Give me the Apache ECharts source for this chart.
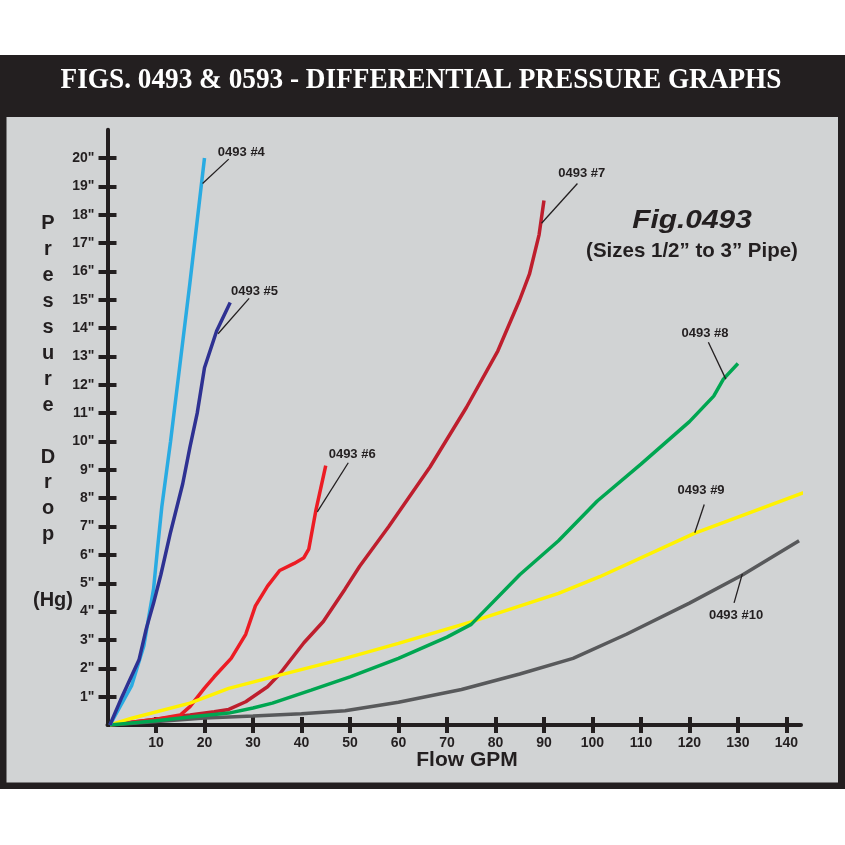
<!DOCTYPE html>
<html lang="en">
<head>
    <meta charset="UTF-8">
    <title>Differential Pressure Graphs</title>
    <script src="https://cdn.jsdelivr.net/npm/echarts@6/dist/echarts.min.js"></script>
    <style type="text/css">
        body{
            margin: 0px;
            padding: 0px;
            background: #ffffff;
        }
        #chart{
            width: 845px;
            height: 845px;
        }
    </style>
</head>
<body>
<div id="chart"></div>
<script type="text/javascript">
    // tick labels
    var flowTicks = [10, 20, 30, 40, 50, 60, 70, 80, 90, 100, 110, 120, 130, 140];
    var dropTicks = [1, 2, 3, 4, 5, 6, 7, 8, 9, 10, 11, 12, 13, 14, 15, 16, 17, 18, 19, 20];

    // curves, [flow GPM, pressure drop "Hg]
    var size4 = [[0.5, 0], [5, 1.4], [7.5, 2.8], [9.5, 4.8], [10.3, 6.2], [11.2, 7.7], [13, 10], [15, 12.8], [17, 15.6], [20, 20]];
    var size5 = [[0.5, 0], [3, 1], [6.5, 2.3], [8, 3.4], [9.5, 4.3], [11, 5.3], [13, 6.8], [15.5, 8.5], [17, 9.8], [18.5, 11], [20, 12.6], [22.5, 13.9], [25.3, 14.9]];
    var size6 = [[0.5, 0], [10, 0.2], [15, 0.35], [17, 0.65], [20, 1.3], [22, 1.7], [25.5, 2.35], [28.5, 3.2], [30.5, 4.2], [33, 4.9], [35.5, 5.45], [38.5, 5.7], [40.5, 5.9], [41.5, 6.2], [43, 7.6], [45, 9.15]];
    var size7 = [[0.5, 0], [10, 0.2], [17, 0.35], [22, 0.47], [25, 0.55], [28.5, 0.82], [33, 1.35], [35.5, 1.8], [40.5, 2.9], [44.5, 3.65], [49, 4.8], [52, 5.6], [58, 7.0], [66.5, 9.1], [74, 11.2], [80.5, 13.2], [85, 15], [87, 15.9], [89, 17.3], [90, 18.5]];
    var size8 = [[0.5, 0], [10, 0.15], [17, 0.28], [25, 0.42], [30, 0.6], [34, 0.77], [42, 1.23], [50, 1.7], [60, 2.35], [70, 3.1], [75, 3.55], [85, 5.3], [93, 6.5], [101, 7.9], [110, 9.2], [120, 10.7], [125, 11.6], [127, 12.2], [130, 12.75]];
    var size9 = [[0.5, 0], [5, 0.24], [17, 0.77], [25, 1.29], [35.5, 1.76], [49, 2.35], [60, 2.88], [75, 3.64], [93, 4.64], [101.5, 5.23], [121, 6.76], [147.3, 8.44]];
    var size10 = [[0.5, 0], [20, 0.25], [30, 0.32], [40, 0.4], [49, 0.5], [60, 0.8], [73, 1.25], [85, 1.8], [96, 2.35], [107, 3.2], [120, 4.3], [131, 5.3], [142.6, 6.5]];

    // callouts: [name, text position, leader start on curve, leader end]
    var callouts = {
        size4: ['0493 #4', [27.6, 20.2], [19.6, 19.1], [25.0, 19.96]],
        size5: ['0493 #5', [30.3, 15.3], [22.8, 13.8], [29.2, 15.05]],
        size6: ['0493 #6', [50.45, 9.55], [43.26, 7.52], [49.65, 9.25]],
        size7: ['0493 #7', [97.8, 19.47], [89.5, 17.7], [96.9, 19.1]],
        size8: ['0493 #8', [123.2, 13.8], [127.5, 12.2], [123.9, 13.5]],
        size9: ['0493 #9', [122.4, 8.27], [121.1, 6.78], [123.05, 7.78]],
        size10: ['0493 #10', [129.6, 3.86], [130.9, 5.33], [129.2, 4.31]]
    };

    var ink = '#231f20';

    function makeLine(key, data, color) {
        var c = callouts[key];
        return {
            type: 'line',
            data: data,
            showSymbol: false,
            clip: false,
            lineStyle: {color: color, width: 3.5},
            itemStyle: {color: color},
            markLine: {
                silent: true,
                symbol: ['none', 'none'],
                label: {show: false},
                lineStyle: {color: ink, width: 1.3, type: 'solid'},
                data: [[{coord: c[2]}, {coord: c[3]}]]
            },
            markPoint: {
                silent: true,
                symbol: 'circle',
                symbolSize: 1,
                itemStyle: {color: 'rgba(0,0,0,0)'},
                label: {
                    show: true,
                    position: 'inside',
                    formatter: c[0],
                    color: ink,
                    fontSize: 13,
                    fontWeight: 'bold',
                    fontFamily: 'Liberation Sans'
                },
                data: [{coord: c[1]}]
            }
        };
    }

    var tickStyle = {color: ink, width: 4};

    var option = {
        animation: false,
        backgroundColor: '#ffffff',
        textStyle: {fontFamily: 'Liberation Sans'},
        grid: {left: 107.5, top: 129.65, width: 693.5, height: 595.35},
        graphic: [
            {type: 'rect', z: -10, shape: {x: 0, y: 55, width: 845, height: 734}, style: {fill: ink}},
            {type: 'rect', z: -9, shape: {x: 6.5, y: 117, width: 831.5, height: 665.5}, style: {fill: '#d1d3d4'}},
            {
                type: 'text', x: 421, y: 81, scaleX: 0.94,
                style: {
                    text: 'FIGS. 0493 & 0593 - DIFFERENTIAL PRESSURE GRAPHS',
                    fill: '#ffffff', font: 'bold 29px "Liberation Serif"',
                    textAlign: 'center', textVerticalAlign: 'middle'
                }
            },
            {
                type: 'text', x: 692, y: 221, scaleX: 1.15,
                style: {
                    text: 'Fig.0493', fill: ink, font: 'italic bold 26px "Liberation Sans"',
                    textAlign: 'center', textVerticalAlign: 'middle'
                }
            },
            {
                type: 'text', x: 692, y: 251,
                style: {
                    text: '(Sizes 1/2\u201d to 3\u201d Pipe)', fill: ink, font: 'bold 20.5px "Liberation Sans"',
                    textAlign: 'center', textVerticalAlign: 'middle'
                }
            },
            {
                type: 'text', x: 48, y: 211,
                style: {
                    text: 'P\nr\ne\ns\ns\nu\nr\ne\n\nD\nr\no\np', fill: ink,
                    font: 'bold 20px "Liberation Sans"', lineHeight: 25.9,
                    textAlign: 'center', textVerticalAlign: 'top'
                }
            },
            {
                type: 'text', x: 53, y: 600,
                style: {
                    text: '(Hg)', fill: ink, font: 'bold 20px "Liberation Sans"',
                    textAlign: 'center', textVerticalAlign: 'middle'
                }
            },
            {
                type: 'text', x: 467, y: 760,
                style: {
                    text: 'Flow GPM', fill: ink, font: 'bold 21px "Liberation Sans"',
                    textAlign: 'center', textVerticalAlign: 'middle'
                }
            }
        ],
        xAxis: [
            {
                type: 'value', min: 0, max: 143, position: 'bottom',
                axisLine: {show: true, onZero: false, lineStyle: {color: ink, width: 4}},
                axisTick: {show: true, length: 8, lineStyle: tickStyle, customValues: flowTicks},
                axisLabel: {
                    show: true, customValues: flowTicks, margin: 11,
                    color: ink, fontSize: 14, fontWeight: 'bold'
                },
                splitLine: {show: false}
            },
            {
                type: 'value', min: 0, max: 143, position: 'bottom', offset: 0,
                axisLine: {show: false, onZero: false},
                axisTick: {show: true, inside: true, length: 8, lineStyle: tickStyle, customValues: flowTicks},
                axisLabel: {show: false},
                splitLine: {show: false}
            }
        ],
        yAxis: [
            {
                type: 'value', min: 0, max: 21, position: 'left',
                axisLine: {show: true, onZero: false, lineStyle: {color: ink, width: 4}},
                axisTick: {show: true, length: 9, lineStyle: tickStyle, customValues: dropTicks},
                axisLabel: {
                    show: true, customValues: dropTicks, margin: 13,
                    color: ink, fontSize: 14, fontWeight: 'bold',
                    formatter: function (v) { return v + '"'; }
                },
                splitLine: {show: false}
            },
            {
                type: 'value', min: 0, max: 21, position: 'left', offset: 0,
                axisLine: {show: false, onZero: false},
                axisTick: {show: true, inside: true, length: 9, lineStyle: tickStyle, customValues: dropTicks},
                axisLabel: {show: false},
                splitLine: {show: false}
            }
        ],
        series: [
            makeLine('size10', size10, '#58595b'),
            makeLine('size7', size7, '#be1e2d'),
            makeLine('size6', size6, '#ec1c24'),
            makeLine('size9', size9, '#fff200'),
            makeLine('size8', size8, '#00a651'),
            makeLine('size4', size4, '#29abe2'),
            makeLine('size5', size5, '#2e3192')
        ]
    };

    var myChart = echarts.init(document.getElementById('chart'));
    myChart.setOption(option);
</script>
</body>
</html>
